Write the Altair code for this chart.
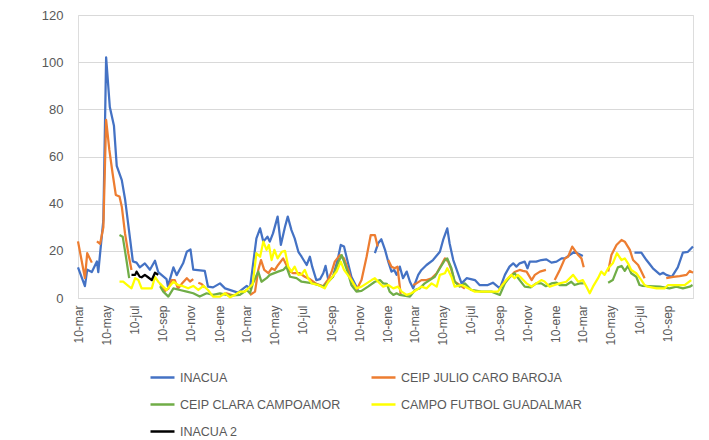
import altair as alt
import pandas as pd

START = "2020-03-10"
END_DAY = 1334
SERIES = ["INACUA", "CEIP JULIO CARO BAROJA", "CEIP CLARA CAMPOAMOR",
          "CAMPO FUTBOL GUADALMAR", "INACUA 2"]
COLORS = ["#4472C4", "#ED7D31", "#70AD47", "#FFFF00", "#000000"]
# legend is filled column by column: this order gives the reference's row layout
LEGEND_ORDER = ["INACUA", "CEIP CLARA CAMPOAMOR", "INACUA 2",
                "CEIP JULIO CARO BAROJA", "CAMPO FUTBOL GUADALMAR"]
MESES = ["ene", "feb", "mar", "abr", "may", "jun", "jul", "ago", "sep", "oct", "nov", "dic"]
Y_TICKS = [0, 20, 40, 60, 80, 100, 120]

# (days since 10-mar-2020, value); None = gap in the series
inacua = [(0, 13), (15, 5), (20, 12), (30, 11), (41, 15.5), (44, 11), (55, 33), (61, 102), (69, 81),
          (78, 73), (84, 56), (95, 50), (102, 42), (113, 25), (119, 15.5), (127, 15), (134, 13),
          (145, 14.7), (156, 12), (167, 15.8), (174, 11), (192, 8), (195, 5), (207, 13), (214, 9.7),
          (228, 14.7), (236, 19.6), (244, 20.6), (250, 12), (275, 11.5), (282, 4.8), (293, 4.5),
          (308, 6.2), (319, 4.1), (347, 2.3), (366, 5.1), (373, 4.1), (387, 25.3), (395, 29.5),
          (402, 23.9), (411, 26), (416, 23.9), (423, 27.4), (433, 34.5), (440, 22.5), (449, 30.2),
          (455, 34.5), (463, 28.8), (470, 25.3), (478, 19.6), (485, 17.5), (496, 14), (503, 17.5),
          (508, 13.3), (517, 7.6), (525, 8), (532, 10.5), (537, 13.6), (543, 7.6), (553, 9),
          (563, 16), (570, 22.5), (577, 21.8), (585, 15.4), (593, 9), (604, 4.8), (608, 2.7), None,
          (644, 19), (651, 23.2), (658, 24.9), (666, 20.4), (673, 15.4), (680, 11.2), (686, 11.9),
          (691, 9.8), (698, 13.3), (705, 8.4), (713, 11.2), (720, 6.9), (727, 4.1), (738, 9.8),
          (745, 11.9), (756, 14), (770, 16.1), (785, 19.6), (792, 24.6), (801, 29.5), (806, 23.2),
          (814, 16.1), (824, 10.5), (832, 6.2), (843, 8.4), (861, 7.6), (871, 5.5), (889, 5.5),
          (900, 6.5), (915, 4.1), (926, 9.8), (936, 13.3), (944, 14.7), (951, 13.3), (958, 14.7),
          (969, 15.4), (975, 12.6), (980, 15.4), (994, 15.4), (1005, 16.1), (1016, 16.4),
          (1027, 15), (1038, 15.4), (1049, 16.8), (1056, 16.8), (1077, 19.6), (1095, 17.8), None,
          (1207, 19.2), (1222, 19.2), (1233, 16.1), (1247, 12.6), (1262, 10), (1269, 10.7),
          (1276, 9.8), (1288, 9), (1301, 13), (1312, 19.2), (1323, 19.6), (1334, 21.8)]

julio_caro_baroja = [(0, 24), (15, 8.5), (20, 19), (30, 15), None,
          (41, 24), (48, 23), (55, 30), (61, 75.5), (68, 62.8), (75, 52.9), (82, 43.7), (90, 43),
          (95, 38.7), (102, 27.4), (109, 19), (116, 11.9), None,
          (178, 6), (189, 3), (196, 4), (203, 7.6), (210, 7.6), (217, 4), (225, 6), (236, 8.4),
          (243, 7), (250, 8), None, (261, 6.5), (268, 5.9), (275, 4.5), None,
          (308, 1.3), (322, 2), (337, 1), None,
          (373, 1.3), (384, 2.7), (391, 11.9), (397, 16.1), (404, 11.9), (413, 10.5), (420, 12.6),
          (427, 11.9), (434, 14), (445, 16.8), (452, 14), (460, 11.2), (467, 10.5), (481, 10.5),
          (492, 9), (503, 8), (517, 6), (532, 5), (543, 8), (550, 11), (557, 15.4), (568, 18.2),
          (577, 16.8), (586, 11.9), (593, 7.6), (604, 3.4), (615, 7.6), (626, 17.5), (635, 26.7),
          (644, 26.7), (650, 21.8), None,
          (673, 16.1), (680, 13.3), (687, 12.6), (693, 13.3), (698, 4.8), (700, 1.3), None,
          (727, 5.5), (734, 6.2), (745, 7.6), (756, 7.6), (767, 8.4), (778, 10.5), (788, 14),
          (796, 16.8), (803, 15.4), (810, 11.9), (817, 6.9), (828, 5.5), (839, 4), None,
          (918, 5.1), (926, 6.9), (937, 9), (947, 11), (958, 11.9), (965, 11.5), (973, 11.2),
          (984, 7.6), (991, 9.8), (1002, 11.2), (1015, 11.9), None,
          (1034, 7.6), (1045, 11.9), (1056, 16.8), (1063, 17.5), (1072, 21.8), (1085, 18.2),
          (1092, 16.8), (1097, 13), None,
          (1150, 11.2), (1157, 18.2), (1168, 22.5), (1179, 24.6), (1186, 23.9), (1197, 20.4),
          (1204, 16.1), (1215, 14), (1222, 11.2), (1229, 8.4), None,
          (1276, 8.4), (1291, 9), (1305, 9.3), (1320, 9.8), (1327, 11.5), (1334, 10.7)]

clara_campoamor = [(90, 26.7), (97, 26), (104, 17.5), (111, 8.4), None,
          (178, 5), (185, 2.7), (196, 0.6), (207, 4.1), (221, 3.4), (236, 2.7), (250, 2),
          (264, 0.6), (279, 2), (293, 1.3), (308, 2), (330, 1), (351, 1.3), (366, 3.4), (373, 2),
          (379, 6), (391, 11.2), (398, 6.9), (409, 8.4), (416, 9.8), (434, 11.2), (445, 11.9),
          (452, 13.3), (460, 9), (474, 8.4), (485, 6.9), (510, 6.2), (532, 4.8), (543, 6.9),
          (553, 9), (564, 14.7), (572, 18.2), (577, 15.4), (585, 11), (593, 5.5), (604, 2.7),
          (615, 3), (629, 4.8), (644, 6.9), (655, 7.6), (662, 6.2), (670, 6), (676, 2.7),
          (684, 1.3), (691, 2), (698, 1.3), (720, 0.6), (731, 3.4), (741, 4.1), (752, 6.2),
          (763, 7.6), (774, 9), (785, 12.6), (796, 16.1), (801, 16.8), (810, 12.6), (817, 7),
          (828, 4.8), (839, 6.2), (853, 3.4), (875, 2.7), (897, 2.7), (915, 1.3), (926, 6.2),
          (937, 9), (947, 10.5), (958, 7.6), (969, 4.8), (982, 4.5), (994, 6.2), (1005, 6.2),
          (1015, 5), (1027, 6.2), (1038, 6.5), (1045, 5.5), (1059, 5.5), (1070, 6.9), (1077, 5.5),
          (1088, 6.2), (1097, 6.2), None,
          (1150, 6.5), (1160, 7.6), (1171, 13), (1179, 13.6), (1186, 11.5), (1193, 13.6),
          (1200, 10.5), (1211, 9), (1218, 5.5), (1225, 5.1), (1262, 4.8), (1283, 4.1),
          (1298, 4.8), (1312, 4.1), (1327, 4.8), (1333, 5.5)]

futbol_guadalmar = [(90, 6.9), (98, 6.9), (107, 5.5), (116, 4.1), (124, 8.4), (131, 7.6),
          (138, 4.1), (160, 4.1), (167, 9), (174, 6.9), (185, 4.8), (192, 3.4), (207, 6.9),
          (217, 5.5), (228, 5), (239, 4.1), (250, 5.1), (261, 3.4), (272, 5.1), (282, 3.4),
          (293, 0.6), (308, 0.6), (319, 2), (330, 0.3), (340, 1.3), (351, 2.7), (362, 2.7),
          (373, 4.8), (379, 6), (387, 19), (395, 17.5), (402, 23.9), (409, 20.4), (414, 22.5),
          (420, 16.1), (426, 20.4), (433, 16.8), (442, 19.6), (449, 20), (456, 13.3), (463, 11.2),
          (470, 13.3), (478, 9.8), (485, 10), (492, 11.9), (499, 8.4), (507, 6.2), (521, 5.5),
          (535, 4.1), (543, 6.9), (561, 11.2), (570, 15.4), (577, 11.9), (585, 9.8), (593, 7.6),
          (604, 4.1), (615, 4.8), (626, 6.2), (637, 7.6), (644, 8.4), (651, 6.9), (662, 4.8),
          (673, 5.5), (684, 4.1), (694, 4.8), (702, 2.7), (713, 1.3), (723, 2), (734, 3.4),
          (745, 4.8), (756, 4.1), (767, 6.2), (778, 4.8), (785, 9.8), (796, 10.5), (801, 12.6),
          (810, 9), (817, 4.8), (832, 5.5), (846, 4.1), (861, 2.7), (911, 2.7), (918, 4.8),
          (929, 7.6), (940, 9.8), (947, 8.4), (954, 9.8), (962, 8.4), (973, 6.2), (984, 4.8),
          (994, 6.2), (1005, 7.6), (1012, 7), (1023, 4.8), (1034, 5.5), (1045, 6.2), (1059, 6.9),
          (1074, 9.8), (1085, 6.9), (1095, 7.6), (1103, 4.8), (1110, 2), (1117, 4.8), (1128, 8.4),
          (1135, 11.2), (1142, 9.8), (1150, 12.6), (1160, 14.7), (1169, 19), (1179, 16.1),
          (1186, 16.8), (1193, 14.7), (1200, 11.9), (1211, 10.5), (1222, 7.6), (1229, 5.5),
          (1236, 4.8), (1255, 4.1), (1273, 4.1), (1280, 5.5), (1316, 5.5), (1330, 7.6)]

inacua_2 = [(116, 9.8), (124, 9.8), (127, 11.2), (134, 9), (138, 8.8), (145, 9.8), (152, 8.8),
            (160, 7.6), (167, 10.7), (174, 9.8)]

DATA = [inacua, julio_caro_baroja, clara_campoamor, futbol_guadalmar, inacua_2]

t0 = pd.Timestamp(START)


def ms(ts):
    return int(ts.value // 10**6)


rows = []
for name, pts in zip(SERIES, DATA):
    seg = 0
    for p in pts:
        if p is None:
            seg += 1
            continue
        d, v = p
        rows.append({"serie": name, "tramo": f"{name}-{seg}",
                     "fecha": ms(t0 + pd.Timedelta(days=d)), "valor": v})
df = pd.DataFrame(rows)

tick_vals = [ms(t0 + pd.DateOffset(months=2 * i)) for i in range(22)]
label_expr = "'10-' + " + str(MESES) + "[utcmonth(datum.value)]"

color_of = dict(zip(SERIES, COLORS))
legend_colors = [color_of[s] for s in LEGEND_ORDER]

FONT = "Liberation Sans"
TXT = "#595959"

lines = alt.Chart(df).mark_line(strokeWidth=2.25, strokeJoin="round").encode(
    x=alt.X("fecha:T",
            scale=alt.Scale(type="utc", domain=[ms(t0), ms(t0 + pd.Timedelta(days=END_DAY))], nice=False),
            axis=alt.Axis(values=tick_vals, labelExpr=label_expr, labelAngle=270, title=None,
                          grid=False, ticks=False, domainColor="#d9d9d9", domainWidth=1,
                          labelColor=TXT, labelFont=FONT, labelFontSize=12, labelPadding=7,
                          labelOverlap=False, labelFlush=False, labelBound=False)),
    y=alt.Y("valor:Q", scale=alt.Scale(domain=[0, 120], nice=False),
            axis=alt.Axis(values=Y_TICKS, title=None, domain=False, ticks=False,
                          gridColor="#d9d9d9", gridWidth=1, labelColor=TXT, labelFont=FONT,
                          labelFontSize=13, labelPadding=15)),
    color=alt.Color("serie:N",
                    scale=alt.Scale(domain=LEGEND_ORDER, range=legend_colors),
                    legend=alt.Legend(title=None, orient="none", legendX=71, legendY=349,
                                      columns=2, columnPadding=24, rowPadding=7,
                                      symbolType="stroke", symbolSize=576,
                                      symbolStrokeWidth=2.5, labelFont=FONT, labelFontSize=12.5,
                                      labelColor=TXT, labelLimit=400, labelOffset=4, padding=0)),
    detail="tramo:N",
)

border = alt.Chart(alt.Data(values=[{}])).mark_rule(color="#000000", strokeWidth=2).encode(
    x=alt.value(-76), y=alt.value(-15), y2=alt.value(425))

chart = alt.layer(lines, border).properties(
    width=615, height=283,
    autosize=alt.AutoSizeParams(type="none"),
    padding={"left": 70, "top": 7, "right": 8, "bottom": 150},
).configure_view(strokeWidth=0).configure(background="white")

chart.save("out.html", embed_options={"renderer": "svg", "actions": False})
